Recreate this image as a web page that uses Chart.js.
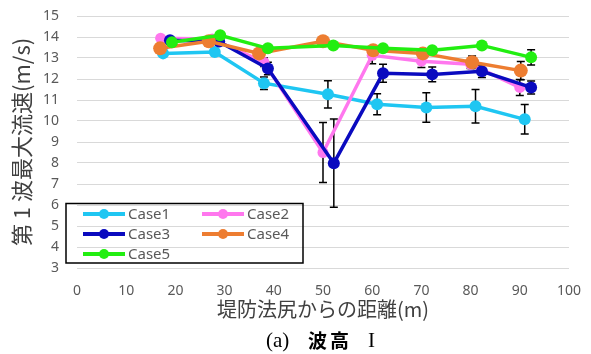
<!DOCTYPE html>
<html lang="ja">
<head>
  <meta charset="UTF-8" />
  <title>第1波最大流速</title>
  <script src="https://cdn.jsdelivr.net/npm/chart.js"></script>
  <style>
    html, body { margin: 0; padding: 0; background: #fff; }
    #wrap { width: 591px; height: 354px; }
  </style>
</head>
<body>
  <div id="wrap"><canvas id="chart"></canvas></div>

  <script>
    // data
    const caseNames = ['Case1', 'Case2', 'Case3', 'Case4', 'Case5'];
    const caseColors = ['#1FC6F2', '#FF77EE', '#0A0ABF', '#ED7D31', '#22EE11'];

    const case1X = [17.5, 28, 38, 51, 61, 71, 81, 91];
    const case1Y = [13.22, 13.29, 11.8, 11.27, 10.8, 10.64, 10.7, 10.08];
    const case1Err = [0.15, 0.1, 0.3, 0.65, 0.5, 0.7, 0.8, 0.7];

    const case2X = [17, 27.5, 38, 50, 60, 70, 80, 90];
    const case2Y = [13.94, 13.9, 12.8, 8.5, 13.13, 12.85, 12.7, 11.6];
    const case2Err = [0.1, 0.1, 0.2, 1.43, 0.4, 0.3, 0.2, 0.38];

    const case3X = [18.9, 28.9, 38.8, 52.2, 62.2, 72.2, 82.3, 92.3];
    const case3Y = [13.84, 13.78, 12.5, 7.99, 12.27, 12.22, 12.37, 11.6];
    const case3Err = [0.1, 0.1, 0.3, 2.1, 0.43, 0.35, 0.3, 0.31];

    const case4X = [16.9, 26.8, 37, 50, 60.2, 70.3, 80.3, 90.2];
    const case4Y = [13.46, 13.8, 13.22, 13.8, 13.37, 13.22, 12.8, 12.4];
    const case4Err = [0.1, 0.1, 0.1, 0.1, 0.2, 0.2, 0.3, 0.43];

    const case5X = [19.3, 29.1, 38.8, 52.1, 62.2, 72.2, 82.3, 92.3];
    const case5Y = [13.75, 14.08, 13.46, 13.6, 13.46, 13.37, 13.6, 13.03];
    const case5Err = [0.1, 0.1, 0.1, 0.1, 0.1, 0.1, 0.1, 0.36];

    const yTicks = [3, 4, 5, 6, 7, 8, 9, 10, 11, 12, 13, 14, 15];
    const xTicks = [0, 10, 20, 30, 40, 50, 60, 70, 80, 90, 100];

    const allX = [case1X, case2X, case3X, case4X, case5X];
    const allY = [case1Y, case2Y, case3Y, case4Y, case5Y];
    const allErr = [case1Err, case2Err, case3Err, case4Err, case5Err];
    const pointSizes = [6, 5.5, 6, 7, 6];

    const datasets = caseNames.map((name, i) => ({
      label: name,
      data: allX[i].map((x, j) => ({ x: x, y: allY[i][j] })),
      showLine: true,
      borderColor: caseColors[i],
      backgroundColor: caseColors[i],
      borderWidth: 3.5,
      pointRadius: pointSizes[i],
      pointBorderWidth: 0,
      pointHoverRadius: pointSizes[i],
      order: 5 - i   // later cases on top, like excel
    }));

    // black error bars under the markers
    const errorBars = {
      id: 'errorBars',
      beforeDatasetsDraw(chart) {
        const ctx = chart.ctx;
        const xs = chart.scales.x, ys = chart.scales.y;
        ctx.save();
        ctx.strokeStyle = '#000';
        ctx.lineWidth = 1.5;
        allErr.forEach((errs, i) => {
          errs.forEach((e, j) => {
            if (!e) return;
            const px = xs.getPixelForValue(allX[i][j]);
            const top = ys.getPixelForValue(allY[i][j] + e);
            const bot = ys.getPixelForValue(allY[i][j] - e);
            ctx.beginPath();
            ctx.moveTo(px, top); ctx.lineTo(px, bot);
            ctx.moveTo(px - 4, top); ctx.lineTo(px + 4, top);
            ctx.moveTo(px - 4, bot); ctx.lineTo(px + 4, bot);
            ctx.stroke();
          });
        });
        ctx.restore();
      }
    };

    // boxed legend sitting inside the plot, plus the caption underneath
    const boxLegend = {
      id: 'boxLegend',
      afterDraw(chart) {
        const ctx = chart.ctx;
        ctx.save();
        ctx.strokeStyle = '#000';
        ctx.lineWidth = 1.5;
        ctx.strokeRect(66, 203.5, 237, 59.5);

        ctx.font = '15px "Noto Sans"';
        ctx.textBaseline = 'middle';
        ctx.textAlign = 'left';
        caseNames.forEach((name, i) => {
          const col = i % 2, row = Math.floor(i / 2);
          const x0 = col === 0 ? 83 : 202;
          const y0 = 214 + row * 20;
          ctx.strokeStyle = caseColors[i];
          ctx.lineWidth = 4;
          ctx.beginPath();
          ctx.moveTo(x0, y0); ctx.lineTo(x0 + 42, y0);
          ctx.stroke();
          ctx.fillStyle = caseColors[i];
          ctx.beginPath();
          ctx.arc(x0 + 21, y0, 5, 0, Math.PI * 2);
          ctx.fill();
          ctx.fillStyle = '#595959';
          ctx.fillText(name, x0 + 45, y0 + 1);
        });

        // caption "(a) 波高 I"
        const cx = (chart.chartArea.left + chart.chartArea.right) / 2;
        const cy = 341;
        ctx.fillStyle = '#000';
        ctx.font = '21px "Liberation Serif"';
        ctx.fillText('(a)', cx - 57, cy);
        ctx.font = 'bold 19px "Noto Sans CJK JP"';
        ctx.fillText('波', cx - 15, cy);
        ctx.fillText('高', cx + 7, cy);
        ctx.font = '21px "Liberation Serif"';
        ctx.fillText('I', cx + 45, cy);
        ctx.restore();
      }
    };

    new Chart(document.getElementById('chart'), {
      type: 'scatter',
      data: { datasets: datasets },
      plugins: [errorBars, boxLegend],
      options: {
        responsive: true,
        maintainAspectRatio: false,
        animation: false,
        layout: { autoPadding: false, padding: { left: 0, right: 22, top: 16, bottom: 33 } },
        plugins: {
          legend: { display: false },
          tooltip: { enabled: false }
        },
        scales: {
          x: {
            type: 'linear',
            min: 0, max: 100,
            afterBuildTicks: (s) => { s.ticks = xTicks.map(v => ({ value: v })); },
            afterFit: (s) => { s.height = 53; s.paddingLeft = 0; s.paddingRight = 0; },
            grid: { display: false, drawTicks: false },
            border: { display: false },
            ticks: { color: '#595959', font: { family: 'Noto Sans', size: 14 }, padding: 15, maxRotation: 0 },
            title: {
              display: true,
              text: '堤防法尻からの距離(m)',
              color: '#404040',
              font: { family: 'Noto Sans CJK JP', size: 20 },
              padding: { top: 0, bottom: 0 }
            }
          },
          y: {
            min: 3, max: 15,
            afterBuildTicks: (s) => { s.ticks = yTicks.map(v => ({ value: v })); },
            afterFit: (s) => { s.width = 77; s.paddingTop = 0; s.paddingBottom = 0; },
            grid: { color: '#D9D9D9', lineWidth: 1, drawTicks: false },
            border: { display: false },
            ticks: { color: '#595959', font: { family: 'Noto Sans', size: 14 }, padding: 18 },
            title: {
              display: true,
              text: '第 1 波最大流速(m/s)',
              color: '#404040',
              font: { family: 'Noto Sans CJK JP', size: 22 },
              padding: { top: 8, bottom: 0 }
            }
          }
        }
      }
    });
  </script>
</body>
</html>
